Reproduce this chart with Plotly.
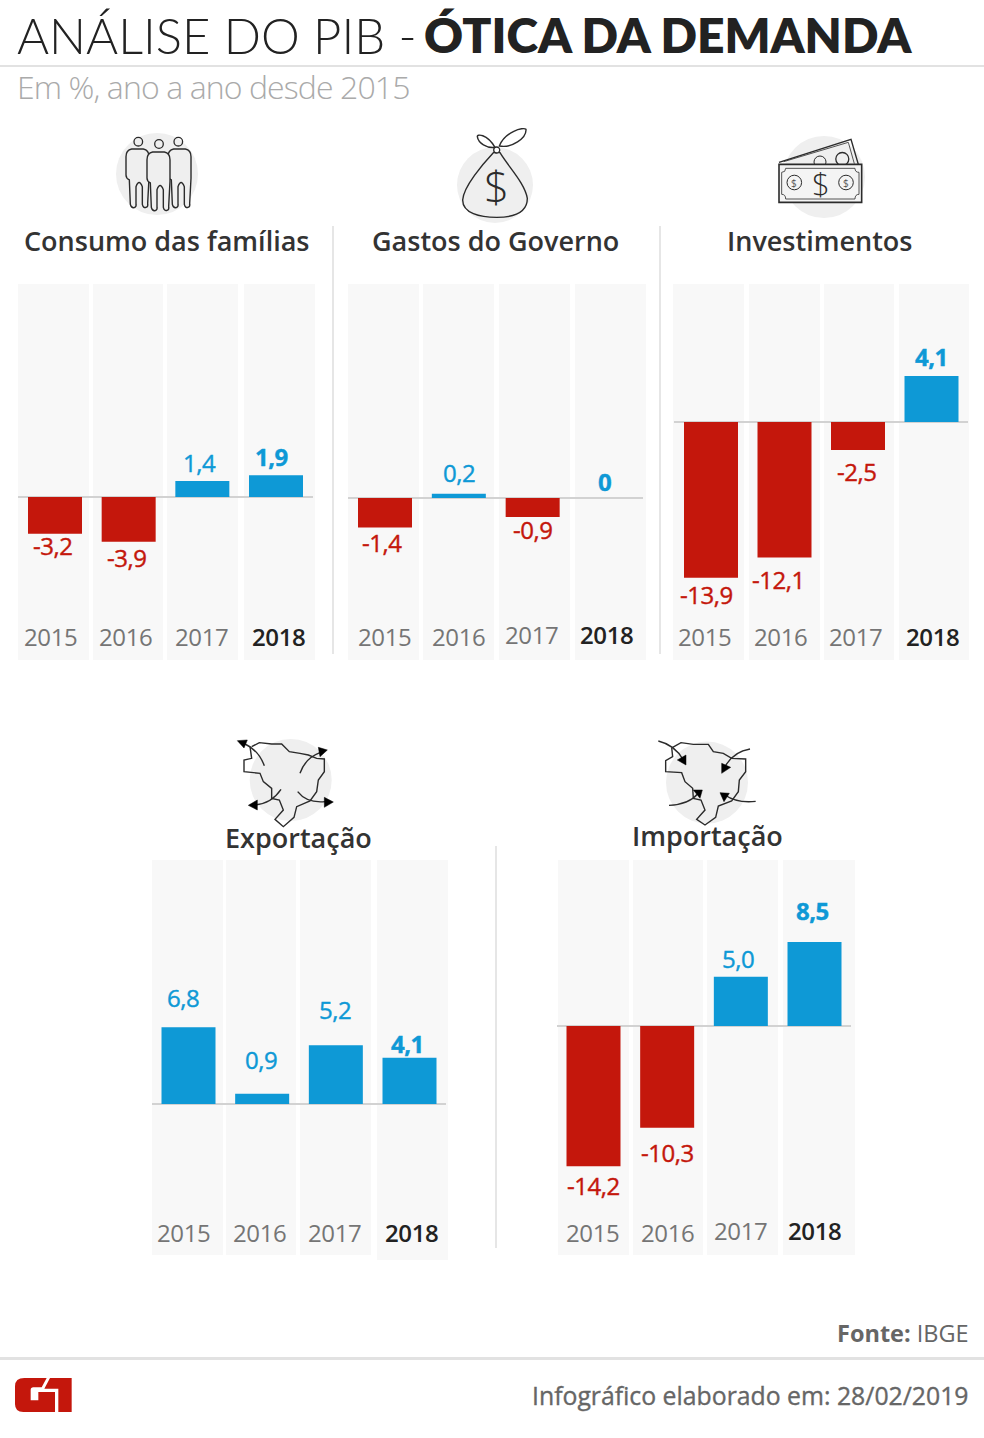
import re
import plotly.graph_objects as go

LARGURA = 984
ALTURA = 1438

ANOS = ["2015", "2016", "2017", "2018"]

consumo_familias = [-3.2, -3.9, 1.4, 1.9]
gastos_governo = [-1.4, 0.2, -0.9, 0]
investimentos = [-13.9, -12.1, -2.5, 4.1]
exportacao = [6.8, 0.9, 5.2, 4.1]
importacao = [-14.2, -10.3, 5.0, 8.5]

VERMELHO = "#c4170c"
AZUL = "#0e99d6"
CINZA_COL = "#f8f8f8"
CINZA_ICONE = "#efefef"
TRACO = "#2b2b2b"
FONTE = "Open Sans"


def sx(x):
    return x / LARGURA


def sy(y):
    return 1 - y / ALTURA


def rotulo(v):
    if v == 0:
        return "0"
    return f"{v:.1f}".replace(".", ",")


def apertado(txt, px):
    return f'<span style="letter-spacing:{px}px">{txt}</span>'


# o peso medio da fonte nao aparece, entao engrossa com um contorno fino
def reforcado(txt, cor, px=-0.5, contorno=0.4):
    return f'<span style="letter-spacing:{px}px;stroke:{cor};stroke-width:{contorno}px">{txt}</span>'


# caminho escrito em pixels da imagem, convertido para coordenadas paper
def caminho(d, escala=1, ox=0, oy=0):
    partes = re.findall(r"[MLCQZ]|-?\d+\.?\d*", d)
    saida = []
    eixo_x = True
    for p in partes:
        if p in "MLCQZ":
            saida.append(p)
            eixo_x = True
        elif eixo_x:
            saida.append(f"{sx(float(p) / escala + ox):.5f}")
            eixo_x = False
        else:
            saida.append(f"{sy(float(p) / escala + oy):.5f}")
            eixo_x = True
    return " ".join(saida)


shapes = []
annotations = []


def forma(d, fill=None, cor=TRACO, lw=1.4, escala=1, ox=0, oy=0, layer="above"):
    shapes.append(dict(type="path", xref="paper", yref="paper", layer=layer,
                       path=caminho(d, escala, ox, oy),
                       fillcolor=fill if fill else "rgba(0,0,0,0)",
                       line=dict(color=cor, width=lw)))


def circulo(cx, cy, r, fill=None, cor=TRACO, lw=1.3, layer="above"):
    shapes.append(dict(type="circle", xref="paper", yref="paper", layer=layer,
                       x0=sx(cx - r), x1=sx(cx + r), y0=sy(cy + r), y1=sy(cy - r),
                       fillcolor=fill if fill else "rgba(0,0,0,0)",
                       line=dict(color=cor, width=lw)))


def fundo(cx, cy, r):
    shapes.append(dict(type="circle", xref="paper", yref="paper", layer="below",
                       x0=sx(cx - r), x1=sx(cx + r), y0=sy(cy + r), y1=sy(cy - r),
                       fillcolor=CINZA_ICONE, line=dict(width=0)))


def retangulo(x0, y0, x1, y1, cor):
    shapes.append(dict(type="rect", xref="paper", yref="paper", layer="below",
                       x0=sx(x0), x1=sx(x1), y0=sy(y1), y1=sy(y0),
                       fillcolor=cor, line=dict(width=0)))


def texto(txt, x, y, size, cor="#333333", anchor="center", weight=400, fam=FONTE):
    annotations.append(dict(text=txt, xref="paper", yref="paper", x=sx(x), y=sy(y),
                            xanchor=anchor, yanchor="middle", showarrow=False,
                            font=dict(family=fam, size=size, color=cor, weight=weight)))


PAINEIS = [
    dict(valores=consumo_familias, centros=[55, 129, 202.5, 276], topo=284, base=660,
         zero=497, k=11.5,
         colunas=[(18, 89), (93, 163), (167, 238), (244, 315)], fim_col=[660, 660, 660, 660],
         ano_x=[51, 126, 202, 279], ano_y=[636, 636, 636, 636],
         val_dx=[-2, -2, -2.5, -4], val_dy=[12, 16, -18, -19]),
    dict(valores=gastos_governo, centros=[385, 459, 532.5, 606.5], topo=284, base=660,
         zero=498, k=21,
         colunas=[(348, 419), (423, 494), (499, 570), (575, 646)], fim_col=[660, 660, 660, 660],
         ano_x=[384, 459, 531, 606], ano_y=[636, 636, 635, 634],
         val_dx=[-3, 0, 0, -2], val_dy=[15, -21, 13, -17]),
    dict(valores=investimentos, centros=[711, 784, 858, 931.5], topo=284, base=660,
         zero=422, k=11.2,
         colunas=[(673, 744), (749, 820), (824, 894), (899, 969)], fim_col=[660, 660, 660, 660],
         ano_x=[704, 780, 855, 932], ano_y=[636, 636, 636, 636],
         val_dx=[-5, -6, -2, 0], val_dy=[17, 22, 21, -20]),
    dict(valores=exportacao, centros=[188.5, 262, 335.5, 409.5], topo=860, base=1260,
         zero=1104, k=11.3,
         colunas=[(152, 223), (226, 296), (300, 371), (377, 448)], fim_col=[1255, 1255, 1255, 1260],
         ano_x=[184, 259, 334, 412], ano_y=[1232, 1232, 1232, 1232],
         val_dx=[-5, -1, -1, -2], val_dy=[-30, -34, -36, -14]),
    dict(valores=importacao, centros=[593.5, 667.5, 740.5, 814.5], topo=860, base=1255,
         zero=1026, k=9.87,
         colunas=[(558, 629), (633, 703), (707, 778), (783, 855)], fim_col=[1255, 1255, 1255, 1255],
         ano_x=[593, 668, 740, 815], ano_y=[1232, 1232, 1230, 1230],
         val_dx=[0, 0, -3, -2], val_dy=[19, 25, -18, -32]),
]

fig = go.Figure()
eixos = {}

for n, p in enumerate(PAINEIS, start=1):
    sufixo = "" if n == 1 else str(n)
    passo = (p["centros"][3] - p["centros"][0]) / 3
    esq = p["centros"][0] - passo / 2
    dir_ = esq + 4 * passo
    y_max = (p["zero"] - p["topo"]) / p["k"]
    y_min = -(p["base"] - p["zero"]) / p["k"]

    fig.add_trace(go.Bar(
        x=ANOS, y=p["valores"], xaxis="x" + sufixo, yaxis="y" + sufixo,
        width=54 / passo, showlegend=False,
        marker=dict(color=[VERMELHO if v < 0 else AZUL for v in p["valores"]], line=dict(width=0)),
    ))

    eixos["xaxis" + sufixo] = dict(
        domain=[sx(esq), sx(dir_)], type="category", categoryorder="array", categoryarray=ANOS,
        range=[-0.5, 3.5], anchor="y" + sufixo, showgrid=False, showline=False, zeroline=False,
        showticklabels=False, ticks="", fixedrange=True,
    )
    eixos["yaxis" + sufixo] = dict(
        domain=[sy(p["base"]), sy(p["topo"])], range=[y_min, y_max], anchor="x" + sufixo,
        showgrid=False, showline=False, showticklabels=False, ticks="", fixedrange=True,
        zeroline=True, zerolinecolor="#d2d2d2", zerolinewidth=1.5,
    )

    for (c0, c1), fim in zip(p["colunas"], p["fim_col"]):
        retangulo(c0, p["topo"], c1, fim, CINZA_COL)

    for i, ano in enumerate(ANOS):
        v = p["valores"][i]
        destaque = ano == "2018"
        cor_val = VERMELHO if v < 0 else AZUL
        # em eixo de categorias com nomes numericos a anotacao usa o indice
        annotations.append(dict(
            text=reforcado(rotulo(v), cor_val), x=i, y=v, xref="x" + sufixo, yref="y" + sufixo,
            xshift=p["val_dx"][i], yshift=-p["val_dy"][i], showarrow=False,
            xanchor="center", yanchor="middle",
            font=dict(family=FONTE, size=24, color=cor_val, weight=700 if destaque else 400),
        ))
        annotations.append(dict(
            text=apertado(ano, -0.4), x=i, y=sy(p["ano_y"][i]), xref="x" + sufixo, yref="paper",
            xshift=p["ano_x"][i] - p["centros"][i], showarrow=False,
            xanchor="center", yanchor="middle",
            font=dict(family=FONTE, size=24, color="#222222" if destaque else "#757575",
                      weight=600 if destaque else 400),
        ))

# cabecalho e rodape
texto("ANÁLISE DO PIB -", 15, 35, 49, cor="#222222", anchor="left", weight=300, fam="Lato")
texto("ÓTICA DA DEMANDA", 422, 35, 48, cor="#222222", anchor="left", weight=800, fam="Lato")
texto(apertado("Em %, ano a ano desde 2015", -0.9), 15, 87, 32, cor="#aaaaaa", anchor="left", weight=300)

texto("Consumo das famílias", 167, 240, 27, weight=600)
texto("Gastos do Governo", 496, 240, 27, weight=600)
texto("Investimentos", 820, 240, 27, weight=600)
texto("Exportação", 298, 837, 27, weight=600)
texto("Importação", 707, 835, 27, weight=600)

texto("<b>Fonte:</b> IBGE", 971, 1333, 23.5, cor="#666666", anchor="right")
texto(reforcado("Infográfico elaborado em: 28/02/2019", "#666666", px=0, contorno=0.35),
      971, 1395, 24.8, cor="#666666", anchor="right")

# linhas separadoras
retangulo(0, 65, LARGURA, 67, "#e2e2e2")
retangulo(0, 1357, LARGURA, 1360, "#e2e2e2")
retangulo(332, 226, 334, 654, "#e6e6e6")
retangulo(659, 226, 661, 654, "#e6e6e6")
retangulo(495, 846, 497, 1248, "#e6e6e6")

# icone pessoas
fundo(157, 174, 41)
CORPO = ("M 95 72 Q 78 75 78 95 L 78 150 Q 78 160 88 165 L 91 238 Q 94 250 103 248 Q 110 245 108 235 "
         "L 108 185 Q 117 160 127 185 L 127 238 Q 130 250 138 247 Q 145 245 143 235 L 147 160 "
         "L 147 95 Q 147 75 130 72 Z")
circulo(138.3, 141.7, 4.3)
circulo(159, 144, 4.3)
circulo(178.3, 141.7, 4.3)
forma(CORPO, fill=CINZA_ICONE, escala=3, ox=100, oy=125)
forma(CORPO, fill=CINZA_ICONE, escala=3, ox=142, oy=125)
forma(CORPO, fill=CINZA_ICONE, escala=3, ox=121, oy=128)

# icone saco de dinheiro
fundo(495, 185, 38)
forma("M 160 98 C 130 130 70 200 68 240 C 68 280 120 292 170 292 C 230 292 262 275 262 235 "
      "C 255 190 205 140 180 98 Z", escala=3, ox=440, oy=120)
forma("M 165 82 C 140 40 110 42 112 50 C 115 70 140 85 165 82 Z", fill="#ffffff", escala=3, ox=440, oy=120)
forma("M 178 78 C 195 35 250 20 258 28 C 260 55 215 85 178 78 Z", fill="#ffffff", escala=3, ox=440, oy=120)
circulo(496.7, 150, 3, fill="#ffffff")
texto("$", 496.5, 186, 44, cor=TRACO, weight=300)

# icone notas
fundo(824, 177, 41)
forma("M 42 112 L 258 43 L 280 118", escala=3, ox=765, oy=125)
forma("M 56 110 L 250 52 L 268 116", escala=3, ox=765, oy=125, lw=0.8)
circulo(842.3, 159, 6.5)
circulo(820, 162, 6, lw=1)
forma("M 42 118 L 290 118 L 290 232 L 42 232 Z", fill="#f4f4f4", escala=3, ox=765, oy=125, lw=1.6)
forma("M 62 130 L 270 130 Q 270 142 282 142 L 282 208 Q 270 208 270 222 L 62 222 Q 62 208 50 208 "
      "L 50 142 Q 62 142 62 130 Z", escala=3, ox=765, oy=125, lw=0.8)
circulo(794.3, 182.5, 7.3, lw=1)
circulo(846, 182.5, 7.3, lw=1)
texto("$", 821, 183, 31, cor=TRACO, weight=300)
texto("$", 794.3, 183, 10, cor="#555555")
texto("$", 846, 183, 10, cor="#555555")

# mapas
fundo(290.7, 780, 41)
MAPA_EXP = ("M 335 50 L 358 38 L 395 42 L 425 42 L 448 65 L 480 70 L 505 75 L 530 85 L 553 87 L 553 125 "
            "L 535 150 L 530 185 L 510 213 L 470 230 L 462 262 L 430 290 L 405 268 L 430 240 L 418 210 "
            "L 395 205 L 395 175 L 370 155 L 360 130 L 312 125 L 312 90 L 335 85 L 330 50")
forma(MAPA_EXP, escala=3, ox=140, oy=730)
for curva, ponta in [
    ("M 373 107 Q 355 60 315 42", "M 292 32 L 322 30 L 312 54 Z"),
    ("M 480 130 Q 495 85 540 68", "M 535 52 L 562 60 L 540 80 Z"),
    ("M 423 178 Q 395 220 345 225", "M 325 226 L 352 210 L 352 240 Z"),
    ("M 473 185 Q 500 220 555 215", "M 580 216 L 553 202 L 553 232 Z"),
]:
    forma(curva, escala=3, ox=140, oy=730)
    forma(ponta, fill="#000000", cor="#000000", lw=0.5, escala=3, ox=140, oy=730)

fundo(707, 782.6, 41)
MAPA_IMP = ("M 218 52 L 243 38 L 280 43 L 325 43 L 340 65 L 370 70 L 395 85 L 437 87 L 437 125 L 418 150 "
            "L 415 185 L 395 213 L 355 228 L 347 262 L 315 285 L 290 268 L 315 240 L 303 210 L 280 205 "
            "L 278 175 L 255 155 L 245 128 L 197 125 L 197 92 L 218 80 L 215 52")
forma(MAPA_IMP, escala=3, ox=600, oy=730)
for curva, ponta in [
    ("M 175 33 Q 225 45 250 90", "M 258 105 L 232 90 L 258 75 Z"),
    ("M 450 57 Q 400 65 375 110", "M 365 130 L 365 100 L 392 112 Z"),
    ("M 207 226 Q 265 225 295 190", "M 280 180 L 307 180 L 300 205 Z"),
    ("M 467 214 Q 410 220 375 195", "M 360 188 L 388 190 L 372 215 Z"),
]:
    forma(curva, escala=3, ox=600, oy=730)
    forma(ponta, fill="#000000", cor="#000000", lw=0.5, escala=3, ox=600, oy=730)

# logo G1
forma("M 58 30 L 125 30 L 110 58 L 85 58 Q 77 58 77 66 L 77 97 L 100 97 L 100 72 L 150 72 L 150 132 "
      "L 55 132 Q 30 132 30 108 L 30 55 Q 30 30 58 30 Z",
      fill=VERMELHO, cor=VERMELHO, lw=0, escala=3, ox=5, oy=1368, layer="below")
forma("M 135 30 L 200 30 L 200 132 L 160 132 L 160 62 L 118 62 Z",
      fill=VERMELHO, cor=VERMELHO, lw=0, escala=3, ox=5, oy=1368, layer="below")

fig.update_layout(
    width=LARGURA, height=ALTURA, margin=dict(l=0, r=0, t=0, b=0),
    paper_bgcolor="#ffffff", plot_bgcolor="rgba(0,0,0,0)",
    shapes=shapes, annotations=annotations, **eixos,
)

fig.write_html("out.html", post_script="document.body.style.margin='0';", config=dict(displayModeBar=False))
